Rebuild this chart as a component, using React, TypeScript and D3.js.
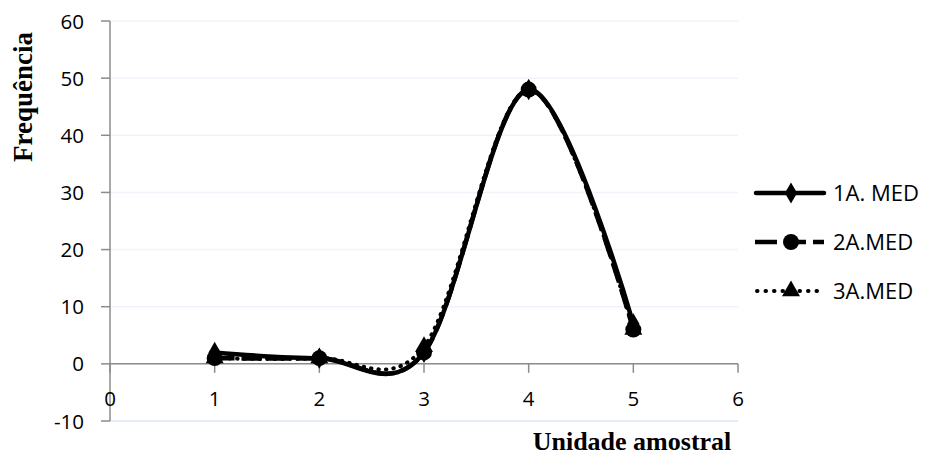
import React, { useEffect, useRef } from 'react';
import * as d3 from 'd3';

const categories = [1, 2, 3, 4, 5];
const med1 = [2, 1, 2, 48, 7];
const med2 = [1, 1, 2, 48, 6];
const med3 = [1, 1, 3, 48, 6];
const seriesNames = ['1A. MED', '2A.MED', '3A.MED'];
const yTicks = [-10, 0, 10, 20, 30, 40, 50, 60];
const xTicks = [0, 1, 2, 3, 4, 5, 6];

const App: React.FC = () => {
  const svgRef = useRef<SVGSVGElement>(null);

  useEffect(() => {
    if (!svgRef.current) return;
    const svg = d3.select(svgRef.current);
    svg.selectAll('*').remove();

    const x = d3.scaleLinear().domain([0, 6]).range([110, 738]);
    const y = d3.scaleLinear().domain([-10, 60]).range([421, 21]);
    const font = "'Open Sans', 'Liberation Sans', sans-serif";
    const serif = "'Liberation Serif', 'Times New Roman', serif";
    const axisColor = '#8c8c8c';

    // faint gridlines
    svg.append('g').selectAll('line').data(yTicks).enter().append('line')
      .attr('x1', x(0)).attr('x2', x(6))
      .attr('y1', d => y(d)).attr('y2', d => y(d))
      .attr('stroke', d => (d === -10 ? '#dde5f4' : '#f0f3fa')).attr('stroke-width', 1.5);

    // y axis
    svg.append('line').attr('x1', x(0)).attr('x2', x(0)).attr('y1', y(60)).attr('y2', y(-10))
      .attr('stroke', axisColor).attr('stroke-width', 1.5);
    svg.append('g').selectAll('line').data(yTicks).enter().append('line')
      .attr('x1', x(0) - 9).attr('x2', x(0)).attr('y1', d => y(d)).attr('y2', d => y(d))
      .attr('stroke', axisColor).attr('stroke-width', 1.5);
    svg.append('g').selectAll('text').data(yTicks).enter().append('text')
      .attr('x', x(0) - 26).attr('y', d => y(d) + 7.5)
      .attr('text-anchor', 'end').attr('font-family', font).attr('font-size', 20.5)
      .attr('fill', '#000').text(d => d);

    // x axis at zero
    svg.append('line').attr('x1', x(0)).attr('x2', x(6)).attr('y1', y(0)).attr('y2', y(0))
      .attr('stroke', axisColor).attr('stroke-width', 1.5);
    svg.append('g').selectAll('line').data(xTicks).enter().append('line')
      .attr('x1', d => x(d)).attr('x2', d => x(d)).attr('y1', y(0)).attr('y2', y(0) + 9)
      .attr('stroke', axisColor).attr('stroke-width', 1.5);
    svg.append('g').selectAll('text').data(xTicks).enter().append('text')
      .attr('x', d => x(d)).attr('y', 406)
      .attr('text-anchor', 'middle').attr('font-family', font).attr('font-size', 20.5)
      .attr('fill', '#000').text(d => d);

    // titles
    svg.append('text').attr('transform', 'translate(32,97) rotate(-90)')
      .attr('text-anchor', 'middle').attr('font-family', serif).attr('font-weight', 'bold')
      .attr('font-size', 27).text('Frequência');
    svg.append('text').attr('x', 632).attr('y', 450)
      .attr('text-anchor', 'middle').attr('font-family', serif).attr('font-weight', 'bold')
      .attr('font-size', 26).text('Unidade amostral');

    const series = [
      { values: med1, dash: null as string | null, width: 4.5, shape: d3.symbolDiamond, size: 130 },
      { values: med2, dash: '20,7', width: 4.5, shape: d3.symbolCircle, size: 200 },
      { values: med3, dash: '0.5,7', width: 4, shape: d3.symbolTriangle, size: 140 },
    ];

    const line = d3.line<number>()
      .x((_, i) => x(categories[i]))
      .y(d => y(d))
      .curve(d3.curveCardinal.tension(0));

    // draw in reverse so the solid series sits on top
    [...series].reverse().forEach(s => {
      const p = svg.append('path').attr('d', line(s.values))
        .attr('fill', 'none').attr('stroke', '#000')
        .attr('stroke-width', s.width)
        .attr('stroke-linecap', s.dash && s.dash.startsWith('0.5') ? 'round' : 'butt')
        .attr('stroke-linejoin', 'round');
      if (s.dash) p.attr('stroke-dasharray', s.dash);
    });
    [...series].reverse().forEach(s => {
      svg.append('g').selectAll('path').data(s.values).enter().append('path')
        .attr('d', d3.symbol().type(s.shape).size(s.size)())
        .attr('transform', (d, i) => `translate(${x(categories[i])},${y(d)})`)
        .attr('fill', '#000');
    });

    // legend
    const ly = [193, 242, 291];
    series.forEach((s, i) => {
      const g = svg.append('g');
      const l = g.append('line').attr('x1', 756).attr('x2', 824).attr('y1', ly[i]).attr('y2', ly[i])
        .attr('stroke', '#000').attr('stroke-width', s.width)
        .attr('stroke-linecap', i === 1 ? 'butt' : 'round');
      if (i === 1) l.attr('stroke-dasharray', '22,7').attr('x1', 755);
      if (i === 2) l.attr('stroke-dasharray', '0.5,8').attr('x1', 757).attr('x2', 818);
      g.append('path').attr('d', d3.symbol().type(s.shape).size(s.size)())
        .attr('transform', `translate(791,${ly[i]})`).attr('fill', '#000');
      g.append('text').attr('x', 833).attr('y', ly[i] + 8)
        .attr('font-family', font).attr('font-size', 22).text(seriesNames[i]);
    });
  }, []);

  return <svg ref={svgRef} width={931} height={466} style={{ position: 'absolute', left: 0, top: 0, background: '#fff' }} />;
};

export default App;
